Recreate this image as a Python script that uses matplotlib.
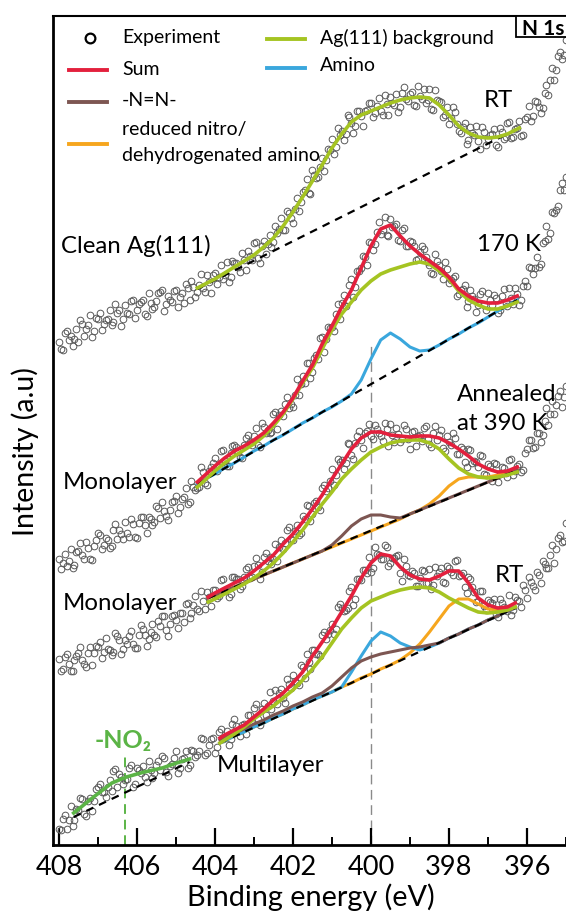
import matplotlib
matplotlib.use("Agg")
import matplotlib.pyplot as plt
from matplotlib.patches import Rectangle

plt.rcParams['font.family'] = ['Lato', 'DejaVu Sans']

# ---------------- data (binding energy in eV, intensity in a.u.) ----------------
# experimental points are sampled on two interleaved energy grids
E_EXP = [408.0, 407.9, 407.8, 407.7, 407.6, 407.5, 407.4, 407.3, 407.2, 407.1,
         407.0, 406.9, 406.8, 406.7, 406.6, 406.5, 406.4, 406.3, 406.2, 406.1,
         406.0, 405.9, 405.8, 405.7, 405.6, 405.5, 405.4, 405.3, 405.2, 405.1,
         405.0, 404.9, 404.8, 404.7, 404.6, 404.5, 404.4, 404.3, 404.2, 404.1,
         404.0, 403.9, 403.8, 403.7, 403.6, 403.5, 403.4, 403.3, 403.2, 403.1,
         403.0, 402.9, 402.8, 402.7, 402.6, 402.5, 402.4, 402.3, 402.2, 402.1,
         402.0, 401.9, 401.8, 401.7, 401.6, 401.5, 401.4, 401.3, 401.2, 401.1,
         401.0, 400.9, 400.8, 400.7, 400.6, 400.5, 400.4, 400.3, 400.2, 400.1,
         400.0, 399.9, 399.8, 399.7, 399.6, 399.5, 399.4, 399.3, 399.2, 399.1,
         399.0, 398.9, 398.8, 398.7, 398.6, 398.5, 398.4, 398.3, 398.2, 398.1,
         398.0, 397.9, 397.8, 397.7, 397.6, 397.5, 397.4, 397.3, 397.2, 397.1,
         397.0, 396.9, 396.8, 396.7, 396.6, 396.5, 396.4, 396.3, 396.2, 396.1,
         396.0, 395.9, 395.8, 395.7, 395.6, 395.5, 395.4, 395.3, 395.2, 395.1,
         395.0]
E_EXP_B = [407.95, 407.85, 407.75, 407.65, 407.55, 407.45, 407.35, 407.25, 407.15, 407.05,
           406.95, 406.85, 406.75, 406.65, 406.55, 406.45, 406.35, 406.25, 406.15, 406.05,
           405.95, 405.85, 405.75, 405.65, 405.55, 405.45, 405.35, 405.25, 405.15, 405.05,
           404.95, 404.85, 404.75, 404.65, 404.55, 404.45, 404.35, 404.25, 404.15, 404.05,
           403.95, 403.85, 403.75, 403.65, 403.55, 403.45, 403.35, 403.25, 403.15, 403.05,
           402.95, 402.85, 402.75, 402.65, 402.55, 402.45, 402.35, 402.25, 402.15, 402.05,
           401.95, 401.85, 401.75, 401.65, 401.55, 401.45, 401.35, 401.25, 401.15, 401.05,
           400.95, 400.85, 400.75, 400.65, 400.55, 400.45, 400.35, 400.25, 400.15, 400.05,
           399.95, 399.85, 399.75, 399.65, 399.55, 399.45, 399.35, 399.25, 399.15, 399.05,
           398.95, 398.85, 398.75, 398.65, 398.55, 398.45, 398.35, 398.25, 398.15, 398.05,
           397.95, 397.85, 397.75, 397.65, 397.55, 397.45, 397.35, 397.25, 397.15, 397.05,
           396.95, 396.85, 396.75, 396.65, 396.55, 396.45, 396.35, 396.25, 396.15, 396.05,
           395.95, 395.85, 395.75, 395.65, 395.55, 395.45, 395.35, 395.25, 395.15, 395.05]

# Clean Ag(111), RT
EXP_CLEAN = [503, 495, 514, 509, 506, 503, 521, 516, 530, 514,
             526, 515, 525, 535, 523, 532, 519, 540, 531, 545,
             535, 543, 531, 552, 536, 544, 553, 534, 549, 543,
             555, 548, 542, 557, 564, 548, 560, 557, 570, 552,
             572, 568, 566, 583, 568, 582, 578, 592, 575, 589,
             602, 587, 599, 591, 610, 603, 612, 627, 615, 632,
             622, 647, 643, 655, 652, 675, 667, 678, 674, 696,
             706, 698, 710, 705, 730, 722, 719, 734, 719, 735,
             742, 732, 747, 730, 741, 748, 740, 733, 752, 746,
             751, 740, 759, 746, 742, 756, 735, 745, 743, 730,
             721, 738, 721, 712, 722, 705, 712, 719, 696, 713,
             706, 711, 700, 717, 706, 722, 707, 716, 724, 710,
             728, 724, 744, 738, 737, 760, 765, 765, 789, 786,
             805]
EXP_CLEAN_B = [496, 512, 505, 499, 516, 525, 509, 520, 508, 527,
               532, 521, 526, 520, 541, 535, 526, 532, 544, 527,
               541, 545, 529, 542, 538, 552, 555, 541, 545, 554,
               538, 552, 561, 545, 558, 553, 571, 553, 563, 570,
               561, 580, 570, 563, 584, 582, 573, 585, 594, 585,
               603, 582, 604, 601, 598, 619, 616, 615, 634, 627,
               636, 634, 653, 666, 651, 670, 668, 687, 685, 695,
               691, 717, 714, 711, 728, 712, 734, 729, 734, 742,
               728, 739, 734, 750, 730, 742, 751, 738, 758, 744,
               753, 739, 749, 756, 745, 736, 755, 744, 728, 738,
               727, 733, 714, 718, 701, 718, 710, 704, 718, 700,
               710, 716, 698, 713, 708, 723, 708, 717, 709, 726,
               739, 729, 743, 732, 752, 750, 777, 775, 793, 790]
# Monolayer, 170 K
EXP_170K = [286, 282, 279, 296, 280, 294, 290, 303, 286, 299,
            312, 296, 307, 297, 315, 306, 311, 323, 308, 321,
            307, 328, 320, 328, 320, 339, 327, 334, 325, 343,
            349, 338, 348, 341, 364, 355, 358, 373, 360, 378,
            387, 378, 395, 379, 392, 400, 393, 387, 407, 403,
            409, 400, 422, 412, 412, 431, 416, 434, 441, 437,
            438, 466, 461, 462, 482, 473, 490, 507, 493, 518,
            518, 531, 526, 550, 545, 566, 558, 574, 589, 580,
            602, 601, 623, 615, 610, 626, 619, 605, 615, 599,
            604, 599, 586, 599, 588, 580, 571, 584, 574, 583,
            562, 567, 549, 555, 560, 544, 549, 533, 551, 540,
            552, 540, 547, 535, 556, 539, 547, 557, 540, 559,
            559, 577, 577, 578, 602, 619, 612, 632, 639, 662,
            668]
EXP_170K_B = [276, 291, 284, 277, 293, 302, 286, 297, 285, 305,
              310, 300, 305, 299, 321, 315, 306, 312, 326, 308,
              322, 328, 312, 326, 323, 337, 343, 329, 335, 344,
              332, 346, 357, 343, 358, 357, 378, 362, 374, 382,
              374, 394, 384, 379, 399, 398, 388, 400, 410, 400,
              417, 398, 418, 415, 413, 433, 430, 429, 448, 441,
              450, 450, 469, 482, 467, 487, 486, 508, 506, 517,
              514, 541, 542, 539, 560, 548, 574, 577, 588, 603,
              595, 613, 611, 628, 609, 618, 621, 604, 617, 599,
              603, 585, 593, 596, 583, 572, 591, 580, 566, 576,
              565, 569, 551, 556, 538, 555, 546, 540, 554, 535,
              545, 550, 532, 549, 542, 557, 541, 551, 545, 564,
              578, 571, 588, 581, 604, 606, 633, 635, 655, 655]
# Monolayer, annealed at 390 K
EXP_390K = [186, 176, 191, 174, 185, 192, 185, 178, 198, 192,
            198, 187, 207, 195, 193, 209, 191, 205, 209, 201,
            197, 220, 210, 206, 221, 208, 219, 229, 209, 229,
            225, 232, 223, 242, 232, 249, 234, 244, 253, 239,
            255, 249, 266, 256, 251, 268, 266, 259, 276, 267,
            279, 280, 273, 292, 288, 286, 284, 305, 302, 318,
            305, 320, 312, 326, 339, 331, 344, 335, 360, 357,
            376, 370, 383, 376, 402, 390, 402, 414, 397, 414,
            409, 420, 412, 404, 416, 421, 403, 411, 406, 416,
            396, 414, 409, 404, 419, 401, 412, 405, 415, 394,
            403, 412, 391, 398, 383, 396, 382, 383, 390, 371,
            381, 364, 381, 371, 377, 368, 386, 374, 381, 375,
            396, 405, 398, 412, 410, 437, 431, 431, 449, 438,
            459]
EXP_390K_B = [174, 188, 181, 174, 189, 198, 181, 192, 180, 199,
              203, 193, 196, 190, 212, 205, 196, 201, 214, 197,
              210, 216, 199, 213, 210, 224, 229, 215, 221, 230,
              217, 232, 241, 227, 240, 236, 254, 236, 248, 255,
              247, 265, 255, 248, 268, 266, 256, 268, 278, 268,
              287, 266, 288, 284, 281, 301, 298, 296, 315, 306,
              314, 310, 329, 340, 324, 342, 338, 357, 354, 364,
              360, 386, 385, 382, 401, 386, 409, 405, 412, 421,
              406, 416, 409, 422, 399, 410, 417, 403, 420, 406,
              413, 399, 410, 417, 406, 398, 419, 410, 397, 409,
              400, 407, 391, 396, 378, 395, 384, 378, 389, 370,
              379, 382, 363, 378, 372, 385, 370, 379, 373, 392,
              405, 397, 412, 403, 424, 420, 444, 440, 454, 448]
# Multilayer, RT
EXP_MULTI = [16, 26, 16, 39, 25, 35, 46, 29, 47, 44,
             58, 53, 48, 65, 74, 58, 68, 65, 77, 58,
             77, 72, 68, 84, 67, 80, 75, 87, 69, 81,
             94, 77, 87, 77, 95, 88, 94, 106, 92, 106,
             92, 113, 106, 114, 106, 126, 114, 120, 111, 130,
             137, 126, 136, 130, 153, 144, 141, 156, 142, 161,
             170, 162, 180, 167, 183, 195, 191, 189, 213, 211,
             221, 216, 241, 234, 237, 258, 246, 266, 275, 272,
             273, 298, 290, 286, 298, 282, 287, 290, 264, 279,
             269, 272, 259, 275, 262, 276, 260, 269, 277, 262,
             277, 270, 285, 270, 258, 268, 258, 243, 254, 239,
             245, 242, 231, 246, 238, 234, 230, 248, 244, 260,
             247, 263, 255, 270, 284, 277, 290, 282, 307, 303,
             322]
EXP_MULTI_B = [15, 30, 25, 19, 36, 47, 31, 44, 34, 56,
               61, 53, 58, 54, 76, 71, 61, 66, 80, 61,
               75, 79, 63, 75, 72, 84, 89, 73, 79, 87,
               72, 86, 94, 80, 94, 90, 107, 90, 100, 107,
               98, 116, 107, 100, 121, 119, 109, 121, 130, 122,
               141, 120, 142, 139, 136, 155, 152, 147, 166, 157,
               164, 160, 178, 191, 176, 195, 191, 210, 206, 215,
               211, 238, 237, 235, 254, 240, 266, 265, 275, 288,
               277, 291, 286, 300, 279, 287, 289, 272, 286, 270,
               274, 259, 267, 274, 262, 256, 278, 273, 263, 279,
               273, 284, 269, 272, 252, 266, 253, 244, 254, 235,
               243, 246, 228, 242, 236, 250, 235, 245, 238, 255,
               268, 259, 273, 262, 281, 277, 300, 296, 310, 304]

# ---- fits: Clean Ag(111) RT ----
E_FIT_CLEAN = [404.45, 404.25, 404.0, 403.75, 403.5, 403.25, 403.0, 402.75, 402.5, 402.25,
               402.0, 401.75, 401.5, 401.25, 401.0, 400.75, 400.5, 400.25, 400.0, 399.75,
               399.5, 399.25, 399.0, 398.75, 398.5, 398.25, 398.0, 397.75, 397.5, 397.25,
               397.0, 396.75, 396.5, 396.2]
AG_CLEAN = [557, 561, 566, 572, 578, 584, 590, 598, 607, 619,
            633, 648, 664, 680, 697, 711, 723, 730, 734, 738,
            742, 745, 747, 748, 747, 740, 730, 719, 712, 708,
            707, 708, 711, 717]
BASE_CLEAN_E = [404.45, 396.2]
BASE_CLEAN = [556, 717]

# ---- fits: 170 K ----
E_FIT_170K = [404.45, 404.25, 404.0, 403.75, 403.5, 403.25, 403.0, 402.75, 402.5, 402.25,
              402.0, 401.75, 401.5, 401.25, 401.0, 400.75, 400.5, 400.25, 400.0, 399.75,
              399.5, 399.25, 399.0, 398.75, 398.5, 398.25, 398.0, 397.75, 397.5, 397.25,
              397.0, 396.75, 396.5, 396.25]
SUM_170K = [363, 370, 379, 387, 394, 399, 405, 412, 422, 433,
            447, 464, 480, 501, 519, 538, 555, 577, 599, 616,
            620, 609, 599, 591, 584, 577, 568, 556, 549, 544,
            542, 542, 545, 549]
AG_170K = [358, 365, 374, 382, 389, 395, 401, 409, 419, 431,
           446, 462, 477, 496, 515, 531, 543, 555, 564, 571,
           575, 578, 581, 583, 581, 574, 566, 554, 545, 540,
           536, 536, 539, 543]
AMINO_170K = [361, 366, 371, 377, 382, 388, 394, 399, 405, 410,
              416, 422, 427, 433, 438, 444, 451, 465, 486, 505,
              512, 506, 498, 494, 495, 500, 506, 511, 517, 522,
              528, 534, 539, 545]
BASE_170K_E = [404.45, 396.25]
BASE_170K = [361, 545]

# ---- fits: annealed at 390 K ----
E_FIT_390K = [404.17, 404.0, 403.75, 403.5, 403.25, 403.0, 402.75, 402.5, 402.25,
              402.0, 401.75, 401.5, 401.25, 401.0, 400.75, 400.5, 400.25, 400.0, 399.75,
              399.5, 399.25, 399.0, 398.75, 398.5, 398.25, 398.0, 397.75, 397.5, 397.25,
              397.0, 396.75, 396.5, 396.25]
SUM_390K = [248, 252, 257, 262, 267, 274, 282, 290, 301,
            311, 323, 336, 350, 366, 381, 396, 407, 413, 413,
            410, 409, 408, 409, 409, 407, 402, 396, 389, 381,
            376, 373, 374, 378]
AG_390K = [243, 246, 251, 256, 261, 267, 274, 282, 292,
           303, 315, 328, 341, 353, 366, 376, 385, 393, 398,
           402, 404, 405, 405, 402, 396, 386, 377, 371, 368,
           367, 368, 370, 373]
AZO_390K = [247, 250, 254, 258, 262, 266, 270, 274, 278,
            282, 286, 290, 294, 300, 309, 319, 326, 330, 330,
            328, 327, 331, 335, 339, 343, 347, 351, 355, 359,
            363, 367, 371, 375]
RED_390K = [247, 250, 254, 258, 262, 266, 270, 274, 278,
            282, 286, 290, 294, 298, 302, 306, 310, 314, 318,
            322, 326, 331, 335, 341, 349, 359, 366, 368, 368,
            368, 370, 373, 375]
BASE_390K_E = [404.17, 396.25]
BASE_390K = [247, 375]

# ---- fits: multilayer RT ----
E_FIT_MULTI = [403.87, 403.75, 403.5, 403.25, 403.0, 402.75, 402.5, 402.25,
               402.0, 401.75, 401.5, 401.25, 401.0, 400.75, 400.5, 400.25, 400.0, 399.75,
               399.5, 399.25, 399.0, 398.75, 398.5, 398.25, 398.0, 397.75, 397.5, 397.25,
               397.0, 396.75, 396.5, 396.3]
SUM_MULTI = [107, 110, 115, 120, 128, 136, 145, 152,
             162, 173, 189, 203, 217, 233, 249, 267, 282, 291,
             289, 278, 270, 266, 265, 269, 274, 274, 262, 247,
             240, 237, 238, 242]
AG_MULTI = [102, 105, 111, 118, 126, 133, 139, 147,
            155, 165, 176, 188, 202, 216, 227, 237, 244, 248,
            252, 255, 257, 258, 257, 253, 247, 242, 237, 233,
            232, 233, 235, 238]
AZO_MULTI = [105, 107, 112, 116, 121, 125, 130, 134,
             139, 143, 148, 152, 159, 168, 177, 184, 188, 191,
             193, 195, 197, 198, 200, 202, 207, 211, 216, 220,
             225, 229, 234, 237]
AMINO_MULTI = [102, 104, 109, 113, 118, 122, 127, 131,
               136, 140, 145, 149, 153, 158, 173, 189, 204, 213,
               209, 202, 198, 195, 198, 202, 207, 211, 216, 220,
               225, 229, 234, 237]
RED_MULTI = [102, 104, 109, 113, 118, 122, 127, 131,
             136, 140, 145, 149, 153, 158, 162, 167, 171, 176,
             180, 185, 192, 201, 213, 226, 239, 246, 246, 241,
             236, 235, 236, 238]
BASE_MULTI_E = [403.87, 396.3]
BASE_MULTI = [102, 237]

# ---- -NO2 fit of the multilayer ----
E_NO2 = [407.62, 407.11, 406.64, 406.27, 405.81, 405.35, 404.98, 404.65]
NO2_FIT = [32, 48, 62, 68, 73, 77, 82, 86]
BASE_NO2_E = [407.62, 404.65]
BASE_NO2 = [28, 83]

X_MAJOR = [408, 406, 404, 402, 400, 398, 396]
X_MINOR = [407, 405, 403, 401, 399, 397, 395]

# ---------------- style ----------------
C_SUM = '#e3203d'
C_AG = '#a5c422'
C_AMINO = '#3aa7dd'
C_AZO = '#7d5652'
C_RED = '#f6a61e'
C_NO2 = '#5bb446'
C_PT = '#595959'

fig = plt.figure(figsize=(5.66, 9.13), dpi=100)
ax = fig.add_axes([53 / 566, 68 / 913, 513 / 566, 829 / 913])
ax.set_xlim(408.15, 395.0)
ax.set_ylim(0, 829)

# reference lines
ax.plot([400, 400], [0, 500], color='#8a8a8a', lw=1.0, dashes=(7, 4), zorder=1)
ax.plot([406.3, 406.3], [0, 92], color=C_NO2, lw=1.4, dashes=(5, 3), zorder=1)

# experiment
for xs, ys in ((E_EXP, EXP_CLEAN), (E_EXP_B, EXP_CLEAN_B),
               (E_EXP, EXP_170K), (E_EXP_B, EXP_170K_B),
               (E_EXP, EXP_390K), (E_EXP_B, EXP_390K_B),
               (E_EXP, EXP_MULTI), (E_EXP_B, EXP_MULTI_B)):
    ax.plot(xs, ys, 'o', mfc='none', mec=C_PT, ms=4.8, mew=0.7, zorder=2)

lw_main = 2.6
lw_comp = 2.2
dash_kw = dict(color='black', lw=1.6, dashes=(3.5, 2.8), zorder=5)

# Clean Ag(111)
ax.plot(BASE_CLEAN_E, BASE_CLEAN, **dash_kw)
ax.plot(E_FIT_CLEAN, AG_CLEAN, color=C_AG, lw=lw_main, zorder=6)

# 170 K
ax.plot(E_FIT_170K, AMINO_170K, color=C_AMINO, lw=lw_comp, zorder=4)
ax.plot(BASE_170K_E, BASE_170K, **dash_kw)
ax.plot(E_FIT_170K, AG_170K, color=C_AG, lw=lw_main, zorder=6)
ax.plot(E_FIT_170K, SUM_170K, color=C_SUM, lw=lw_main, zorder=7)

# annealed 390 K
ax.plot(E_FIT_390K, RED_390K, color=C_RED, lw=lw_comp, zorder=4)
ax.plot(E_FIT_390K, AZO_390K, color=C_AZO, lw=lw_comp, zorder=4)
ax.plot(BASE_390K_E, BASE_390K, **dash_kw)
ax.plot(E_FIT_390K, AG_390K, color=C_AG, lw=lw_main, zorder=6)
ax.plot(E_FIT_390K, SUM_390K, color=C_SUM, lw=lw_main, zorder=7)

# multilayer
ax.plot(E_FIT_MULTI, RED_MULTI, color=C_RED, lw=lw_comp, zorder=4)
ax.plot(E_FIT_MULTI, AMINO_MULTI, color=C_AMINO, lw=lw_comp, zorder=4)
ax.plot(E_FIT_MULTI, AZO_MULTI, color=C_AZO, lw=lw_comp, zorder=4)
ax.plot(BASE_MULTI_E, BASE_MULTI, **dash_kw)
ax.plot(E_FIT_MULTI, AG_MULTI, color=C_AG, lw=lw_main, zorder=6)
ax.plot(E_FIT_MULTI, SUM_MULTI, color=C_SUM, lw=lw_main, zorder=7)

# -NO2
ax.plot(BASE_NO2_E, BASE_NO2, **dash_kw)
ax.plot(E_NO2, NO2_FIT, color=C_NO2, lw=lw_main, zorder=6)

# labels
lab = dict(fontsize=17.3, color='black', zorder=8)
ax.text(407.95, 599, 'Clean Ag(111)', ha='left', va='center', **lab)
ax.text(396.74, 745, 'RT', ha='center', va='center', **lab)
ax.text(397.28, 601, '170 K', ha='left', va='center', **lab)
ax.text(407.9, 363, 'Monolayer', ha='left', va='center', **lab)
ax.text(397.8, 451, 'Annealed', ha='left', va='center', **lab)
ax.text(397.8, 422, 'at 390 K', ha='left', va='center', **lab)
ax.text(407.9, 242, 'Monolayer', ha='left', va='center', **lab)
ax.text(396.44, 270, 'RT', ha='center', va='center', **lab)
ax.text(403.95, 80, 'Multilayer', ha='left', va='center', **lab)
ax.text(406.36, 105, '-NO₂', ha='center', va='center', fontsize=18,
        fontweight='bold', color=C_NO2, zorder=8)

# N 1s box (runs off the right edge as in the original)
ax.add_patch(Rectangle((0.9025, 0.975), 0.2, 0.025, transform=ax.transAxes,
                       fc='white', ec='black', lw=1.3, clip_on=False, zorder=9))
ax.text(0.9136, 0.9771, 'N 1s', transform=ax.transAxes, fontsize=15,
        fontweight='bold', ha='left', va='baseline', zorder=10)

# manual legend (axes fraction)
T = ax.transAxes
lg = dict(fontsize=14, ha='left', va='center', transform=T, zorder=9)
ax.plot([0.0721], [0.9735], 'o', mfc='none', mec='black', ms=7, mew=1.6,
        transform=T, zorder=9)
ax.text(0.1345, 0.9735, 'Experiment', **lg)
ax.plot([0.0312, 0.1053], [0.9349, 0.9349], color=C_SUM, lw=2.8, transform=T)
ax.text(0.1345, 0.9349, 'Sum', **lg)
ax.plot([0.0312, 0.1053], [0.8963, 0.8963], color=C_AZO, lw=2.8, transform=T)
ax.text(0.1345, 0.8975, '-N=N-', **lg)
ax.plot([0.0312, 0.1053], [0.8456, 0.8456], color=C_RED, lw=2.8, transform=T)
ax.text(0.1345, 0.8625, 'reduced nitro/', **lg)
ax.text(0.1345, 0.8323, 'dehydrogenated amino', **lg)
ax.plot([0.4172, 0.4912], [0.9723, 0.9723], color=C_AG, lw=2.8, transform=T)
ax.text(0.5195, 0.9735, 'Ag(111) background', **lg)
ax.plot([0.4172, 0.4912], [0.9373, 0.9373], color=C_AMINO, lw=2.8, transform=T)
ax.text(0.5195, 0.9397, 'Amino', **lg)

# axes styling
ax.set_xticks(X_MAJOR)
ax.set_xticks(X_MINOR, minor=True)
ax.set_xticklabels([str(v) for v in X_MAJOR])
ax.set_yticks([])
ax.tick_params(axis='x', which='major', direction='in', length=12, width=1.6,
               labelsize=19.5, pad=7)
ax.tick_params(axis='x', which='minor', direction='in', length=6, width=1.4)
ax.spines['right'].set_visible(False)
ax.spines['left'].set_linewidth(2.0)
ax.spines['bottom'].set_linewidth(2.0)
ax.spines['top'].set_linewidth(1.5)

ax.set_xlabel('Binding energy (eV)', fontsize=20.8)
ax.xaxis.set_label_coords(0.503, -0.046)
ax.set_ylabel('Intensity (a.u)', fontsize=20.5)
ax.yaxis.set_label_coords(-0.027, 0.474)

fig.savefig('out.png', dpi=100)
